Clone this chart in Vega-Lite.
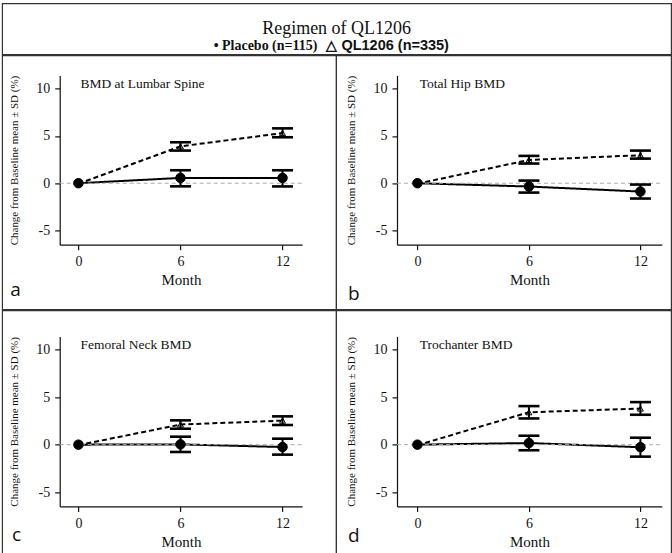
{
  "$schema": "https://vega.github.io/schema/vega-lite/v6.json",
  "padding": {"left": 1.1, "top": 2.4, "right": 0, "bottom": 0},
  "config": {
    "font": "Liberation Serif",
    "view": {"stroke": "#333", "strokeWidth": 1.2},
    "axis": {"labelFont": "Liberation Serif", "labelFontSize": 14, "labelColor": "#111", "titleFont": "Liberation Serif", "titleFontWeight": "normal", "titleColor": "#111", "domainColor": "#111", "domainWidth": 1.2, "tickColor": "#111", "tickWidth": 1.2, "tickSize": 5, "labelPadding": 5, "grid": false, "labelExpr": "replace(datum.label, '−', '-')"},
    "tick": {"thickness": 2.6},
    "rule": {"strokeCap": "butt"}
  },
  "datasets": {
    "bmd": [
      {"panel": "a", "group": "Placebo", "month": 0, "mean": 0, "lo": null, "hi": null},
      {"panel": "a", "group": "Placebo", "month": 6, "mean": 0.56, "lo": -0.33, "hi": 1.37},
      {"panel": "a", "group": "Placebo", "month": 12, "mean": 0.56, "lo": -0.34, "hi": 1.37},
      {"panel": "a", "group": "QL1206", "month": 0, "mean": -0.05, "lo": null, "hi": null},
      {"panel": "a", "group": "QL1206", "month": 6, "mean": 3.9, "lo": 3.45, "hi": 4.33},
      {"panel": "a", "group": "QL1206", "month": 12, "mean": 5.3, "lo": 4.86, "hi": 5.8},
      {"panel": "b", "group": "Placebo", "month": 0, "mean": 0, "lo": null, "hi": null},
      {"panel": "b", "group": "Placebo", "month": 6, "mean": -0.35, "lo": -0.99, "hi": 0.28},
      {"panel": "b", "group": "Placebo", "month": 12, "mean": -0.88, "lo": -1.62, "hi": -0.14},
      {"panel": "b", "group": "QL1206", "month": 0, "mean": -0.05, "lo": null, "hi": null},
      {"panel": "b", "group": "QL1206", "month": 6, "mean": 2.46, "lo": 2.08, "hi": 2.89},
      {"panel": "b", "group": "QL1206", "month": 12, "mean": 2.96, "lo": 2.6, "hi": 3.45},
      {"panel": "c", "group": "Placebo", "month": 0, "mean": 0, "lo": null, "hi": null},
      {"panel": "c", "group": "Placebo", "month": 6, "mean": 0.03, "lo": -0.77, "hi": 0.84},
      {"panel": "c", "group": "Placebo", "month": 12, "mean": -0.25, "lo": -1.05, "hi": 0.63},
      {"panel": "c", "group": "QL1206", "month": 0, "mean": -0.05, "lo": null, "hi": null},
      {"panel": "c", "group": "QL1206", "month": 6, "mean": 2.12, "lo": 1.68, "hi": 2.56},
      {"panel": "c", "group": "QL1206", "month": 12, "mean": 2.53, "lo": 2.07, "hi": 2.98},
      {"panel": "d", "group": "Placebo", "month": 0, "mean": 0, "lo": null, "hi": null},
      {"panel": "d", "group": "Placebo", "month": 6, "mean": 0.17, "lo": -0.59, "hi": 0.94},
      {"panel": "d", "group": "Placebo", "month": 12, "mean": -0.27, "lo": -1.26, "hi": 0.73},
      {"panel": "d", "group": "QL1206", "month": 0, "mean": -0.05, "lo": null, "hi": null},
      {"panel": "d", "group": "QL1206", "month": 6, "mean": 3.41, "lo": 2.76, "hi": 4.06},
      {"panel": "d", "group": "QL1206", "month": 12, "mean": 3.8, "lo": 3.15, "hi": 4.48}
    ],
    "panels": [
      {"panel": "a", "name": "BMD at Lumbar Spine", "letter": "a"},
      {"panel": "b", "name": "Total Hip BMD", "letter": "b"},
      {"panel": "c", "name": "Femoral Neck BMD", "letter": "c"},
      {"panel": "d", "name": "Trochanter BMD", "letter": "d"}
    ],
    "header": [
      {"part": "title", "text": "Regimen of QL1206"},
      {"part": "placebo", "text": "• Placebo (n=115)"},
      {"part": "ql", "text": "△ QL1206 (n=335)"}
    ]
  },
  "vconcat": [
    {
      "width": 669, "height": 51,
      "data": {"name": "header"},
      "layer": [
        {"transform": [{"filter": "datum.part === 'title'"}],
         "mark": {"type": "text", "font": "Liberation Serif", "fontSize": 18, "align": "center", "baseline": "alphabetic", "color": "#111"},
         "encoding": {"text": {"field": "text"},
           "x": {"datum": 0.5, "type": "quantitative", "scale": {"domain": [0, 1]}, "axis": null},
           "y": {"datum": 0.404, "type": "quantitative", "scale": {"domain": [0, 1]}, "axis": null}}},
        {"transform": [{"filter": "datum.part === 'placebo'"}],
         "mark": {"type": "text", "font": "Liberation Serif", "fontSize": 14, "fontWeight": "bold", "align": "right", "baseline": "alphabetic", "color": "#111"},
         "encoding": {"text": {"field": "text"},
           "x": {"datum": 0.4713, "type": "quantitative", "scale": {"domain": [0, 1]}, "axis": null},
           "y": {"datum": 0.092, "type": "quantitative", "scale": {"domain": [0, 1]}, "axis": null}}},
        {"transform": [{"filter": "datum.part === 'ql'"}],
         "mark": {"type": "text", "font": "Liberation Sans", "fontSize": 14.5, "fontWeight": "bold", "align": "left", "baseline": "alphabetic", "color": "#111"},
         "encoding": {"text": {"field": "text"},
           "x": {"datum": 0.4848, "type": "quantitative", "scale": {"domain": [0, 1]}, "axis": null},
           "y": {"datum": 0.092, "type": "quantitative", "scale": {"domain": [0, 1]}, "axis": null}}}
      ]
    },
    {
      "hconcat": [
        {
          "width": 334, "height": 254,
          "layer": [
            {"data": {"name": "bmd"}, "transform": [{"filter": "datum.panel === 'a'"}],
             "mark": {"type": "line", "color": "black", "strokeWidth": 2},
             "encoding": {
               "x": {"field": "month", "type": "quantitative", "scale": {"domain": [-1.1, 13.15], "range": [57.6, 300], "nice": false, "zero": false},
                     "axis": {"title": "Month", "titleFontSize": 15, "values": [0, 6, 12], "offset": -64.7, "titlePadding": 4}},
               "y": {"field": "mean", "type": "quantitative", "scale": {"domain": [-6.5, 11.4], "range": [189.3, 20], "nice": false, "zero": false},
                     "axis": {"title": "Change from Baseline mean ± SD (%)", "titleFontSize": 11, "values": [-5, 0, 5, 10], "offset": -57.6, "titlePadding": 16}},
               "strokeDash": {"field": "group", "type": "nominal", "scale": {"domain": ["Placebo", "QL1206"], "range": [[1, 0], [5, 3]]}, "legend": null}}},
            {"data": {"name": "panels"}, "transform": [{"filter": "datum.panel === 'a'"}],
             "mark": {"type": "rule", "color": "#aaa", "strokeDash": [4, 3], "strokeWidth": 1},
             "encoding": {"x": {"datum": -1.1, "type": "quantitative"}, "x2": {"datum": 13.15}, "y": {"datum": 0, "type": "quantitative"}}},
            {"data": {"name": "bmd"}, "transform": [{"filter": "datum.panel === 'a' && isValid(datum.lo)"}],
             "mark": {"type": "rule", "color": "black", "strokeWidth": 2},
             "encoding": {"x": {"field": "month", "type": "quantitative"}, "y": {"field": "lo", "type": "quantitative"}, "y2": {"field": "hi"}}},
            {"data": {"name": "bmd"}, "transform": [{"filter": "datum.panel === 'a' && isValid(datum.lo)"}],
             "mark": {"type": "tick", "orient": "horizontal", "color": "black", "size": 21, "opacity": 1},
             "encoding": {"x": {"field": "month", "type": "quantitative"}, "y": {"field": "lo", "type": "quantitative"}}},
            {"data": {"name": "bmd"}, "transform": [{"filter": "datum.panel === 'a' && isValid(datum.lo)"}],
             "mark": {"type": "tick", "orient": "horizontal", "color": "black", "size": 21, "opacity": 1},
             "encoding": {"x": {"field": "month", "type": "quantitative"}, "y": {"field": "hi", "type": "quantitative"}}},
            {"data": {"name": "bmd"}, "transform": [{"filter": "datum.panel === 'a'"}],
             "mark": {"type": "point", "filled": true, "stroke": "black", "strokeWidth": 1, "opacity": 1},
             "encoding": {"x": {"field": "month", "type": "quantitative"}, "y": {"field": "mean", "type": "quantitative"},
                          "shape": {"field": "group", "type": "nominal", "scale": {"domain": ["Placebo", "QL1206"], "range": ["circle", "triangle-up"]}, "legend": null},
                          "fill": {"field": "group", "type": "nominal", "scale": {"domain": ["Placebo", "QL1206"], "range": ["black", "transparent"]}, "legend": null},
                          "size": {"field": "group", "type": "nominal", "scale": {"domain": ["Placebo", "QL1206"], "range": [90, 35]}, "legend": null}}},
            {"data": {"name": "panels"}, "transform": [{"filter": "datum.panel === 'a'"}],
             "mark": {"type": "text", "font": "Liberation Serif", "fontSize": 13.5, "align": "left", "baseline": "alphabetic", "color": "#111"},
             "encoding": {"text": {"field": "name"}, "x": {"datum": 0.12, "type": "quantitative"}, "y": {"datum": 10.06, "type": "quantitative"}}},
            {"data": {"name": "panels"}, "transform": [{"filter": "datum.panel === 'a'"}],
             "mark": {"type": "text", "font": "Open Sans", "fontSize": 19, "align": "left", "baseline": "alphabetic", "color": "#111"},
             "encoding": {"text": {"field": "letter"}, "x": {"datum": -4.0, "type": "quantitative"}, "y": {"datum": -11.97, "type": "quantitative"}}}
          ]
        },
        {
          "width": 335, "height": 254,
          "layer": [
            {"data": {"name": "bmd"}, "transform": [{"filter": "datum.panel === 'b'"}],
             "mark": {"type": "line", "color": "black", "strokeWidth": 2},
             "encoding": {
               "x": {"field": "month", "type": "quantitative", "scale": {"domain": [-1.1, 13.15], "range": [60.9, 325.7], "nice": false, "zero": false},
                     "axis": {"title": "Month", "titleFontSize": 15, "values": [0, 6, 12], "offset": -64.7, "titlePadding": 4}},
               "y": {"field": "mean", "type": "quantitative", "scale": {"domain": [-6.5, 11.4], "range": [189.3, 20], "nice": false, "zero": false},
                     "axis": {"title": "Change from Baseline mean ± SD (%)", "titleFontSize": 11, "values": [-5, 0, 5, 10], "offset": -60.9, "titlePadding": 16}},
               "strokeDash": {"field": "group", "type": "nominal", "scale": {"domain": ["Placebo", "QL1206"], "range": [[1, 0], [5, 3]]}, "legend": null}}},
            {"data": {"name": "panels"}, "transform": [{"filter": "datum.panel === 'b'"}],
             "mark": {"type": "rule", "color": "#aaa", "strokeDash": [4, 3], "strokeWidth": 1},
             "encoding": {"x": {"datum": -1.1, "type": "quantitative"}, "x2": {"datum": 13.15}, "y": {"datum": 0, "type": "quantitative"}}},
            {"data": {"name": "bmd"}, "transform": [{"filter": "datum.panel === 'b' && isValid(datum.lo)"}],
             "mark": {"type": "rule", "color": "black", "strokeWidth": 2},
             "encoding": {"x": {"field": "month", "type": "quantitative"}, "y": {"field": "lo", "type": "quantitative"}, "y2": {"field": "hi"}}},
            {"data": {"name": "bmd"}, "transform": [{"filter": "datum.panel === 'b' && isValid(datum.lo)"}],
             "mark": {"type": "tick", "orient": "horizontal", "color": "black", "size": 21, "opacity": 1},
             "encoding": {"x": {"field": "month", "type": "quantitative"}, "y": {"field": "lo", "type": "quantitative"}}},
            {"data": {"name": "bmd"}, "transform": [{"filter": "datum.panel === 'b' && isValid(datum.lo)"}],
             "mark": {"type": "tick", "orient": "horizontal", "color": "black", "size": 21, "opacity": 1},
             "encoding": {"x": {"field": "month", "type": "quantitative"}, "y": {"field": "hi", "type": "quantitative"}}},
            {"data": {"name": "bmd"}, "transform": [{"filter": "datum.panel === 'b'"}],
             "mark": {"type": "point", "filled": true, "stroke": "black", "strokeWidth": 1, "opacity": 1},
             "encoding": {"x": {"field": "month", "type": "quantitative"}, "y": {"field": "mean", "type": "quantitative"},
                          "shape": {"field": "group", "type": "nominal", "scale": {"domain": ["Placebo", "QL1206"], "range": ["circle", "triangle-up"]}, "legend": null},
                          "fill": {"field": "group", "type": "nominal", "scale": {"domain": ["Placebo", "QL1206"], "range": ["black", "transparent"]}, "legend": null},
                          "size": {"field": "group", "type": "nominal", "scale": {"domain": ["Placebo", "QL1206"], "range": [90, 35]}, "legend": null}}},
            {"data": {"name": "panels"}, "transform": [{"filter": "datum.panel === 'b'"}],
             "mark": {"type": "text", "font": "Liberation Serif", "fontSize": 13.5, "align": "left", "baseline": "alphabetic", "color": "#111"},
             "encoding": {"text": {"field": "name"}, "x": {"datum": 0.12, "type": "quantitative"}, "y": {"datum": 10.06, "type": "quantitative"}}},
            {"data": {"name": "panels"}, "transform": [{"filter": "datum.panel === 'b'"}],
             "mark": {"type": "text", "font": "Open Sans", "fontSize": 19, "align": "left", "baseline": "alphabetic", "color": "#111"},
             "encoding": {"text": {"field": "letter"}, "x": {"datum": -3.73, "type": "quantitative"}, "y": {"datum": -12.31, "type": "quantitative"}}}
          ]
        }
      ],
      "spacing": 0, "bounds": "flush"
    },
    {
      "hconcat": [
        {
          "width": 334, "height": 243,
          "layer": [
            {"data": {"name": "bmd"}, "transform": [{"filter": "datum.panel === 'c'"}],
             "mark": {"type": "line", "color": "black", "strokeWidth": 2},
             "encoding": {
               "x": {"field": "month", "type": "quantitative", "scale": {"domain": [-1.1, 13.15], "range": [57.6, 300], "nice": false, "zero": false},
                     "axis": {"title": "Month", "titleFontSize": 15, "values": [0, 6, 12], "offset": -47, "titlePadding": 4}},
               "y": {"field": "mean", "type": "quantitative", "scale": {"domain": [-6.5, 11.4], "range": [196, 26], "nice": false, "zero": false},
                     "axis": {"title": "Change from Baseline mean ± SD (%)", "titleFontSize": 11, "values": [-5, 0, 5, 10], "offset": -57.6, "titlePadding": 16}},
               "strokeDash": {"field": "group", "type": "nominal", "scale": {"domain": ["Placebo", "QL1206"], "range": [[1, 0], [5, 3]]}, "legend": null}}},
            {"data": {"name": "panels"}, "transform": [{"filter": "datum.panel === 'c'"}],
             "mark": {"type": "rule", "color": "#aaa", "strokeDash": [4, 3], "strokeWidth": 1},
             "encoding": {"x": {"datum": -1.1, "type": "quantitative"}, "x2": {"datum": 13.15}, "y": {"datum": 0, "type": "quantitative"}}},
            {"data": {"name": "bmd"}, "transform": [{"filter": "datum.panel === 'c' && isValid(datum.lo)"}],
             "mark": {"type": "rule", "color": "black", "strokeWidth": 2},
             "encoding": {"x": {"field": "month", "type": "quantitative"}, "y": {"field": "lo", "type": "quantitative"}, "y2": {"field": "hi"}}},
            {"data": {"name": "bmd"}, "transform": [{"filter": "datum.panel === 'c' && isValid(datum.lo)"}],
             "mark": {"type": "tick", "orient": "horizontal", "color": "black", "size": 21, "opacity": 1},
             "encoding": {"x": {"field": "month", "type": "quantitative"}, "y": {"field": "lo", "type": "quantitative"}}},
            {"data": {"name": "bmd"}, "transform": [{"filter": "datum.panel === 'c' && isValid(datum.lo)"}],
             "mark": {"type": "tick", "orient": "horizontal", "color": "black", "size": 21, "opacity": 1},
             "encoding": {"x": {"field": "month", "type": "quantitative"}, "y": {"field": "hi", "type": "quantitative"}}},
            {"data": {"name": "bmd"}, "transform": [{"filter": "datum.panel === 'c'"}],
             "mark": {"type": "point", "filled": true, "stroke": "black", "strokeWidth": 1, "opacity": 1},
             "encoding": {"x": {"field": "month", "type": "quantitative"}, "y": {"field": "mean", "type": "quantitative"},
                          "shape": {"field": "group", "type": "nominal", "scale": {"domain": ["Placebo", "QL1206"], "range": ["circle", "triangle-up"]}, "legend": null},
                          "fill": {"field": "group", "type": "nominal", "scale": {"domain": ["Placebo", "QL1206"], "range": ["black", "transparent"]}, "legend": null},
                          "size": {"field": "group", "type": "nominal", "scale": {"domain": ["Placebo", "QL1206"], "range": [90, 35]}, "legend": null}}},
            {"data": {"name": "panels"}, "transform": [{"filter": "datum.panel === 'c'"}],
             "mark": {"type": "text", "font": "Liberation Serif", "fontSize": 13.5, "align": "left", "baseline": "alphabetic", "color": "#111"},
             "encoding": {"text": {"field": "name"}, "x": {"datum": 0.12, "type": "quantitative"}, "y": {"datum": 10.06, "type": "quantitative"}}},
            {"data": {"name": "panels"}, "transform": [{"filter": "datum.panel === 'c'"}],
             "mark": {"type": "text", "font": "Open Sans", "fontSize": 19, "align": "left", "baseline": "alphabetic", "color": "#111"},
             "encoding": {"text": {"field": "letter"}, "x": {"datum": -3.9, "type": "quantitative"}, "y": {"datum": -10.11, "type": "quantitative"}}}
          ]
        },
        {
          "width": 335, "height": 243,
          "layer": [
            {"data": {"name": "bmd"}, "transform": [{"filter": "datum.panel === 'd'"}],
             "mark": {"type": "line", "color": "black", "strokeWidth": 2},
             "encoding": {
               "x": {"field": "month", "type": "quantitative", "scale": {"domain": [-1.1, 13.15], "range": [60.9, 325.7], "nice": false, "zero": false},
                     "axis": {"title": "Month", "titleFontSize": 15, "values": [0, 6, 12], "offset": -47, "titlePadding": 4}},
               "y": {"field": "mean", "type": "quantitative", "scale": {"domain": [-6.5, 11.4], "range": [196, 26], "nice": false, "zero": false},
                     "axis": {"title": "Change from Baseline mean ± SD (%)", "titleFontSize": 11, "values": [-5, 0, 5, 10], "offset": -60.9, "titlePadding": 16}},
               "strokeDash": {"field": "group", "type": "nominal", "scale": {"domain": ["Placebo", "QL1206"], "range": [[1, 0], [5, 3]]}, "legend": null}}},
            {"data": {"name": "panels"}, "transform": [{"filter": "datum.panel === 'd'"}],
             "mark": {"type": "rule", "color": "#aaa", "strokeDash": [4, 3], "strokeWidth": 1},
             "encoding": {"x": {"datum": -1.1, "type": "quantitative"}, "x2": {"datum": 13.15}, "y": {"datum": 0, "type": "quantitative"}}},
            {"data": {"name": "bmd"}, "transform": [{"filter": "datum.panel === 'd' && isValid(datum.lo)"}],
             "mark": {"type": "rule", "color": "black", "strokeWidth": 2},
             "encoding": {"x": {"field": "month", "type": "quantitative"}, "y": {"field": "lo", "type": "quantitative"}, "y2": {"field": "hi"}}},
            {"data": {"name": "bmd"}, "transform": [{"filter": "datum.panel === 'd' && isValid(datum.lo)"}],
             "mark": {"type": "tick", "orient": "horizontal", "color": "black", "size": 21, "opacity": 1},
             "encoding": {"x": {"field": "month", "type": "quantitative"}, "y": {"field": "lo", "type": "quantitative"}}},
            {"data": {"name": "bmd"}, "transform": [{"filter": "datum.panel === 'd' && isValid(datum.lo)"}],
             "mark": {"type": "tick", "orient": "horizontal", "color": "black", "size": 21, "opacity": 1},
             "encoding": {"x": {"field": "month", "type": "quantitative"}, "y": {"field": "hi", "type": "quantitative"}}},
            {"data": {"name": "bmd"}, "transform": [{"filter": "datum.panel === 'd'"}],
             "mark": {"type": "point", "filled": true, "stroke": "black", "strokeWidth": 1, "opacity": 1},
             "encoding": {"x": {"field": "month", "type": "quantitative"}, "y": {"field": "mean", "type": "quantitative"},
                          "shape": {"field": "group", "type": "nominal", "scale": {"domain": ["Placebo", "QL1206"], "range": ["circle", "triangle-up"]}, "legend": null},
                          "fill": {"field": "group", "type": "nominal", "scale": {"domain": ["Placebo", "QL1206"], "range": ["black", "transparent"]}, "legend": null},
                          "size": {"field": "group", "type": "nominal", "scale": {"domain": ["Placebo", "QL1206"], "range": [90, 35]}, "legend": null}}},
            {"data": {"name": "panels"}, "transform": [{"filter": "datum.panel === 'd'"}],
             "mark": {"type": "text", "font": "Liberation Serif", "fontSize": 13.5, "align": "left", "baseline": "alphabetic", "color": "#111"},
             "encoding": {"text": {"field": "name"}, "x": {"datum": 0.12, "type": "quantitative"}, "y": {"datum": 10.06, "type": "quantitative"}}},
            {"data": {"name": "panels"}, "transform": [{"filter": "datum.panel === 'd'"}],
             "mark": {"type": "text", "font": "Open Sans", "fontSize": 19, "align": "left", "baseline": "alphabetic", "color": "#111"},
             "encoding": {"text": {"field": "letter"}, "x": {"datum": -3.73, "type": "quantitative"}, "y": {"datum": -10.28, "type": "quantitative"}}}
          ]
        }
      ],
      "spacing": 0, "bounds": "flush"
    }
  ],
  "spacing": -1.2
}
